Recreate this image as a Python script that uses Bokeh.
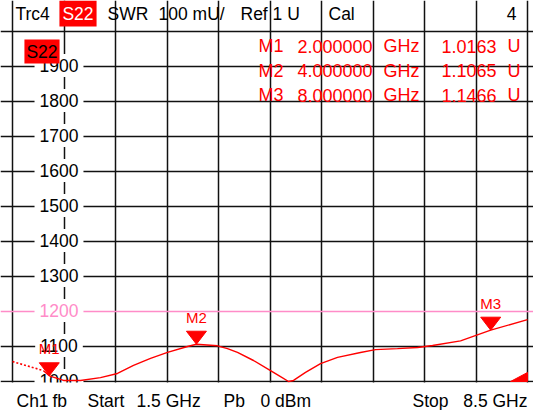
from bokeh.plotting import figure
from bokeh.models import Grid, FixedTicker, ColumnDataSource, Range1d
from bokeh.core.properties import value
from bokeh.embed import file_html
from bokeh.resources import INLINE

# ---------------- data ----------------
start_ghz, stop_ghz = 1.5, 8.5
n_div = 10
ref_mU, scale_mU = 1000, 100
freq_ghz = [1.5, 1.921, 2.0, 2.193, 2.424, 2.696, 2.927, 3.145, 3.376, 3.607,
            3.879, 4.0, 4.286, 4.422, 4.558, 4.776, 5.007, 5.143, 5.252, 5.320,
            5.483, 5.687, 5.918, 6.230, 6.434, 6.733, 7.005, 7.209, 7.590, 8.0, 8.5]
swr_mU = [1057, 1031, 1016.3, 1003, 1003, 1011, 1023, 1046, 1066, 1083,
          1100, 1106.5, 1102, 1094, 1083, 1060, 1031, 1014, 1000, 1003,
          1026, 1051, 1069, 1083, 1091, 1094, 1097, 1103, 1116, 1146.6, 1177]
marker_names = ["M1", "M2", "M3"]
marker_freq_ghz = [2.0, 4.0, 8.0]
marker_swr_U = [1.0163, 1.1065, 1.1466]
ytick_vals = [1900, 1800, 1700, 1600, 1500, 1400, 1300, 1200, 1100, 1000]
ytick_labels = ["1900", "1800", "1700", "1600", "1500", "1400", "1300", "1200", "1100", "1000"]
ref_line_mU = 1200

header_items = ["Trc4", "SWR", "100 mU/", "Ref 1 U", "Cal", "4"]
header_trace = "S22"
footer_items = ["Ch1", "fb", "Start", "1.5 GHz", "Pb", "0 dBm", "Stop", "8.5 GHz"]

# ---------------- layout (canvas pixels) ----------------
W, H = 533, 410
GL, GR, GT, GB = 12, 527, 31, 381   # graticule edges in canvas px
X0, X1 = start_ghz, stop_ghz
Y0, Y1 = ref_mU, ref_mU + n_div * scale_mU
SX = (X1 - X0) / (GR - GL)
SY = (Y1 - Y0) / (GB - GT)

def dx(px):
    return X0 + (px - GL) * SX

def dy(py):
    return Y0 + (GB - py) * SY

def wx(px):
    return px * SX

def hy(px):
    return px * SY

RED = "#ff0000"
PINK = "#ff8cc8"
FONT = value("Liberation Sans")

p = figure(width=W, height=H, x_range=Range1d(dx(0), dx(W)), y_range=Range1d(dy(H), dy(0)),
           x_axis_type=None, y_axis_type=None, output_backend="svg",
           toolbar_location=None, min_border_left=0, min_border_right=0,
           min_border_top=0, min_border_bottom=0)
p.outline_line_color = None
p.background_fill_color = "white"
p.border_fill_color = "white"

xticks = [X0 + i * (X1 - X0) / n_div for i in range(n_div + 1)]
yticks = [Y0 + i * scale_mU for i in range(n_div + 1)]
p.add_layout(Grid(dimension=0, ticker=FixedTicker(ticks=xticks), bounds=(Y0, Y1),
                  grid_line_color="#111111", grid_line_width=1.5))
p.add_layout(Grid(dimension=1, ticker=FixedTicker(ticks=[t for t in yticks if t != ref_line_mU]),
                  bounds=(X0, X1), grid_line_color="#111111", grid_line_width=1.5))
p.add_layout(Grid(dimension=1, ticker=FixedTicker(ticks=[ref_line_mU]), bounds=(X0, X1),
                  grid_line_color=PINK, grid_line_width=1.5))

# y labels with white backgrounds (cover gridlines)
lab_src = ColumnDataSource(dict(
    x=[xticks[1]] * len(ytick_vals), y=ytick_vals, t=ytick_labels,
    c=[PINK if v == ref_line_mU else "black" for v in ytick_vals]))
p.text(x="x", y="y", text="t", source=lab_src, text_color="c",
       text_align="center", text_baseline="middle", text_font=FONT,
       text_font_size="17.5px", x_offset=-5, y_offset=-1,
       background_fill_color="white", padding=5)

# mask below the graticule (label clipping like the instrument)
p.quad(left=[dx(0)], right=[dx(W)], top=[Y0 - hy(1)], bottom=[dy(H)],
       fill_color="white", line_color=None)

# S22 box inside the plot
p.text(x=[dx(41.5)], y=[dy(51)], text=[header_trace], text_color="black",
       text_align="center", text_baseline="middle", text_font=FONT,
       text_font_size="17.5px", background_fill_color=RED, padding=2)

# trace (steep first segment renders dotted on the instrument)
p.line(freq_ghz[:2], swr_mU[:2], line_color=RED, line_width=1.6, line_dash="2 2")
p.line(freq_ghz[1:], swr_mU[1:], line_color=RED, line_width=1.4)

# markers
mv = [v * 1000 for v in marker_swr_U]
tri_w, tri_h = 20, 13
p.patches(xs=[[f - wx(tri_w / 2), f + wx(tri_w / 2), f] for f in marker_freq_ghz],
          ys=[[v + hy(tri_h), v + hy(tri_h), v] for v in mv],
          fill_color=RED, line_color=RED, line_width=1)
p.text(x=marker_freq_ghz, y=mv, text=marker_names, text_color=RED,
       text_align="center", text_baseline="middle", text_font=FONT,
       text_font_size="15px", y_offset=-27)

# out-of-range indicator at bottom-right corner
p.patches(xs=[[X1 - wx(17), X1, X1]], ys=[[Y0, Y0, Y0 + hy(9)]],
          fill_color=RED, line_color=RED)

# marker table
row_py = [45.5, 70, 94.5]
rows_y = [dy(r) for r in row_py]
tab_kw = dict(text_color=RED, text_baseline="middle", text_font=FONT, text_font_size="18px")
p.text(x=[dx(258)] * 3, y=rows_y, text=marker_names, text_align="left", **tab_kw)
p.text(x=[dx(297)] * 3, y=rows_y, text=[f"{f:.6f}" for f in marker_freq_ghz], text_align="left", **tab_kw)
p.text(x=[dx(383)] * 3, y=rows_y, text=["GHz"] * 3, text_align="left", **tab_kw)
p.text(x=[dx(496)] * 3, y=rows_y, text=[f"{v:.4f}" for v in marker_swr_U], text_align="right", **tab_kw)
p.text(x=[dx(507)] * 3, y=rows_y, text=["U"] * 3, text_align="left", **tab_kw)

# header
hdr_y = dy(13)
hdr_x = [15, 107, 158, 240, 328, 516]
hdr_align = ["left", "left", "left", "left", "left", "right"]
p.text(x=[dx(v) for v in hdr_x], y=[hdr_y] * len(hdr_x), text=header_items,
       text_align=hdr_align, text_baseline="middle", text_font=FONT,
       text_font_size="17.5px", text_color="black")
p.text(x=[dx(77.5)], y=[hdr_y], text=[header_trace], text_align="center",
       text_baseline="middle", text_font=FONT, text_font_size="17.5px",
       text_color="white", background_fill_color=RED, padding=3)

# footer
ftr_y = dy(400)
ftr_x = [16, 52, 87, 136, 223, 260, 412, 527]
ftr_align = ["left"] * 7 + ["right"]
p.text(x=[dx(v) for v in ftr_x], y=[ftr_y] * len(ftr_x), text=footer_items,
       text_align=ftr_align, text_baseline="middle", text_font=FONT,
       text_font_size="17.5px", text_color="black")

open("out.html", "w").write(file_html(p, INLINE))
